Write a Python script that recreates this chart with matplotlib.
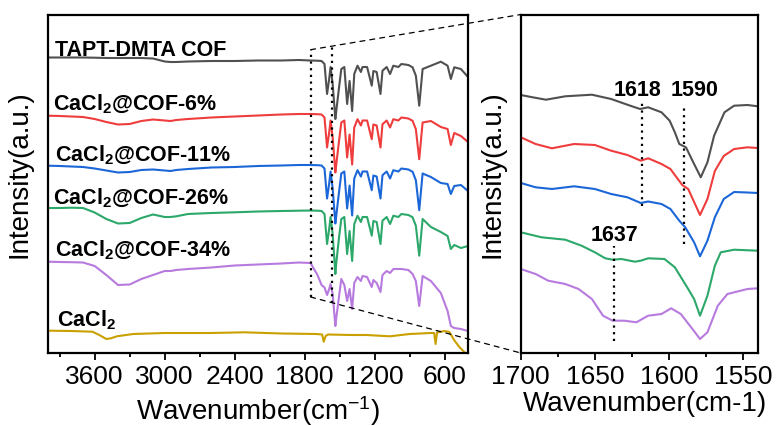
import matplotlib
matplotlib.use("Agg")
import matplotlib.pyplot as plt
from matplotlib.patches import ConnectionPatch

plt.rcParams['font.family'] = ['Liberation Sans', 'DejaVu Sans']
plt.rcParams['mathtext.fontset'] = 'custom'
plt.rcParams['mathtext.rm'] = 'Liberation Sans'
plt.rcParams['mathtext.bf'] = 'Liberation Sans:bold'
plt.rcParams['mathtext.it'] = 'Liberation Sans:italic'
plt.rcParams['mathtext.default'] = 'regular'

# ---------------- data: full range spectra (left panel) ----------------
wn_cof = [4000, 3900, 3800, 3700, 3600, 3500, 3400, 3300, 3200, 3100, 3000, 2950, 2900, 2800,
          2600, 2400, 2200, 2000, 1850,
          1750, 1690, 1655, 1630, 1608, 1590, 1578, 1560, 1537, 1529, 1507, 1486, 1460, 1436,
          1415, 1393, 1375, 1347, 1318, 1304, 1265, 1225, 1211, 1183, 1150, 1133, 1097, 1068,
          1040, 997, 971, 911, 875, 847, 818, 789, 718, 633, 575, 547, 518, 461, 400]

y_tapt = [295.5, 295.5, 295.5, 295.5, 295.3, 295, 295, 295, 295, 294.5, 291.5, 291, 291, 291.5,
          292, 292, 292.5, 292.5, 293,
          292.5, 292.3, 292, 289, 259, 274, 286, 269, 234, 242, 264, 284, 286, 249,
          272, 242, 279, 287.3, 281, 286, 286, 267.3, 282, 281, 259, 282.3, 286, 279,
          287.3, 286, 289, 288, 285.7, 277.3, 247.3, 284, 287.3, 291.3, 287.3, 274, 285.7, 284, 276]

y_cof6 = [237.3, 237, 236.5, 236, 234, 231, 228.5, 229, 232, 233.5, 232.5, 232, 233, 234,
          235.5, 236.5, 237.5, 238.5, 239,
          239, 238.8, 238.5, 235.5, 205.5, 220.5, 232.5, 215.5, 180.5, 188.5, 210.5, 230.5, 232.5, 195.5,
          218.5, 188.5, 225.5, 233.8, 227.5, 232.5, 232.5, 213.8, 228.5, 227.5, 205.5, 228.8, 232.5, 225.5,
          233.8, 232.5, 235.5, 234.5, 232.2, 223.8, 193.8, 230.5, 232, 226, 224, 208, 220, 217, 211]

y_cof11 = [187.3, 187, 186.5, 186, 184.5, 182.5, 180.5, 181, 183, 183.5, 182.5, 182, 183, 184,
           185.5, 186, 187, 187.5, 188,
           188, 187.8, 187.5, 184.5, 154.5, 169.5, 181.5, 164.5, 129.5, 137.5, 159.5, 179.5, 181.5, 144.5,
           167.5, 137.5, 174.5, 182.8, 176.5, 181.5, 181.5, 162.8, 177.5, 176.5, 154.5, 177.8, 181.5, 174.5,
           182.8, 181.5, 184.5, 183.5, 181.2, 172.8, 142.8, 179.5, 176, 170, 169, 159, 167, 168, 162]

y_cof26 = [145, 145, 145.3, 145, 140.5, 134, 129.5, 130, 135, 138.5, 136, 136, 136.7, 139,
           140, 140.7, 141.5, 142, 142.3,
           142.5, 142.3, 142, 139, 109, 124, 136, 119, 79, 90, 114, 134, 136, 99,
           122, 92, 129, 137.3, 131, 136, 136, 117.3, 132, 131, 109, 132.3, 136, 129,
           137.3, 136, 139, 138, 135.7, 127.3, 97.3, 134, 126, 121, 117, 104, 108, 105, 107]

y_cof34 = [91.3, 91, 90.8, 90.5, 87, 78, 68, 68.5, 74, 78, 82, 82, 83, 84,
           85.5, 87.5, 88.5, 89.5, 90.5,
           90, 78, 68, 65.5, 58, 64, 69, 59, 27, 35, 55, 74, 68, 52,
           64, 44, 70, 76, 72, 77, 76, 66, 73, 70, 61, 78, 82, 80,
           84, 84, 84, 83, 79, 72, 47, 77, 72, 60, 42, 27, 25, 24, 22]

wn_cacl2 = [4000, 3800, 3620, 3560, 3500, 3460, 3410, 3270, 3000, 2600, 2320, 2000, 1700, 1650,
            1637, 1620, 1600, 1400, 1270, 1070, 900, 720, 690, 678, 665, 600, 560, 515, 472,
            443, 400]
y_cacl2 = [22.3, 22, 21.3, 18, 14, 14.7, 16.7, 19, 20, 20, 20.7, 19.5, 19, 18.5,
           11.3, 17, 18.5, 18, 18, 16.7, 19, 20, 20, 9, 20.5, 22, 21, 12.3, 5.7, 2.3, -3]

# ---------------- data: zoomed region 1700-1540 cm-1 (right panel) ----------------
z_wn_tapt = [1700, 1692, 1683, 1670, 1652, 1639, 1627.5, 1619.5, 1614, 1605, 1599.5, 1596, 1593,
             1588.5, 1583, 1578.5, 1574, 1569.5, 1562.5, 1556, 1547, 1540]
z_y_tapt = [258, 255.7, 253.3, 256.7, 258.3, 254, 248, 244, 245.7, 240.7, 232.3, 220.7, 209,
            205.7, 189, 175.7, 190.7, 217.3, 240.7, 247.3, 248, 246.7]

z_wn_6 = [1700, 1690, 1679, 1664, 1650, 1639, 1628, 1619, 1614, 1605, 1599, 1594, 1591, 1587,
          1583, 1579, 1574, 1569, 1563, 1556, 1547, 1540]
z_y_6 = [215.7, 209, 204.7, 209, 208, 202.3, 198, 192.3, 194.7, 189, 184, 174, 168, 164,
         151, 138, 154, 182, 197, 204, 205.7, 205]

z_wn_11 = [1700, 1690, 1679, 1664, 1650, 1639, 1628, 1619, 1614, 1605, 1599, 1593, 1589, 1583,
           1579, 1574, 1569, 1563, 1556, 1547, 1540]
z_y_11 = [170, 165.7, 164, 166.7, 164, 159, 155.7, 150, 151.5, 149, 144, 132.3, 125.7, 110.7,
          96.7, 112.3, 135.7, 154, 161, 160.5, 160]

z_wn_26 = [1700, 1686, 1670, 1659, 1650, 1643, 1638, 1632, 1623, 1619, 1614, 1603, 1596, 1587,
           1583, 1579, 1574, 1569, 1565, 1556, 1540]
z_y_26 = [120.7, 115.7, 113.3, 107.3, 100.7, 94.7, 93.3, 94, 91.3, 92.3, 94.7, 94, 85.7, 64,
          54, 37.3, 57.3, 87.3, 100.7, 103.3, 102.3]

z_wn_34 = [1700, 1690, 1681.5, 1670, 1661, 1652, 1644.5, 1638, 1630, 1622, 1614, 1605, 1598.5,
           1592, 1585, 1579, 1574, 1567, 1560.5, 1547, 1540]
z_y_34 = [84, 79, 72.3, 69, 64, 54, 37.3, 32.3, 32.3, 30.7, 37.3, 39, 44.7, 39, 25.7, 14,
          20.7, 47.3, 59, 64, 64.7]

series_names = ["TAPT-DMTA COF", r"CaCl$_\mathbf{2}$@COF-6%", r"CaCl$_\mathbf{2}$@COF-11%",
                r"CaCl$_\mathbf{2}$@COF-26%", r"CaCl$_\mathbf{2}$@COF-34%", r"CaCl$_\mathbf{2}$"]
colors = ["#505050", "#ef3d3d", "#1c67d8", "#2ca86a", "#b77ade", "#c9a000"]

peak_labels = ["1618", "1590", "1637"]
peak_wn = [1618, 1590, 1637]

full_x = [wn_cof, wn_cof, wn_cof, wn_cof, wn_cof, wn_cacl2]
full_y = [y_tapt, y_cof6, y_cof11, y_cof26, y_cof34, y_cacl2]
zoom_x = [z_wn_tapt, z_wn_6, z_wn_11, z_wn_26, z_wn_34]
zoom_y = [z_y_tapt, z_y_6, z_y_11, z_y_26, z_y_34]

# ---------------- figure ----------------
W, H = 778, 427
fig = plt.figure(figsize=(W / 100, H / 100), dpi=100)
ax1 = fig.add_axes([48 / W, 73 / H, 420 / W, 338.5 / H])
ax2 = fig.add_axes([520.8 / W, 73 / H, 237 / W, 338.5 / H])

lw = 1.5
for xs, ys, c in zip(full_x, full_y, colors):
    ax1.plot(xs, ys, color=c, lw=lw, solid_joinstyle='round')
for xs, ys, c in zip(zoom_x, zoom_y, colors):
    ax2.plot(xs, ys, color=c, lw=lw, solid_joinstyle='round')

ax1.set_xlim(4000, 400)
ax2.set_xlim(1700, 1540)
for ax in (ax1, ax2):
    ax.set_ylim(0, 338.5)
    ax.set_yticks([])
    for s in ax.spines.values():
        s.set_linewidth(1.6)
    ax.tick_params(axis='x', which='both', direction='out', width=1.3, labelsize=19, pad=3)
    ax.tick_params(axis='x', which='major', length=5)
    ax.tick_params(axis='x', which='minor', length=3)

ax1.set_xticks([3600, 3000, 2400, 1800, 1200, 600])
ax1.set_xticks([3900, 3300, 2700, 2100, 1500, 900], minor=True)
ax2.set_xticks([1700, 1650, 1600, 1550])
ax2.set_xticks([1675, 1625, 1575], minor=True)

ax1.set_xlabel("Wavenumber(cm$^{-1}$)", fontsize=20)
ax2.set_xlabel("Wavenumber(cm-1)", fontsize=20)
ax1.set_ylabel("Intensity(a.u.)", fontsize=20)
ax2.set_ylabel("Intensity(a.u.)", fontsize=20)
ax1.xaxis.set_label_coords(0.5, -0.118)
ax2.xaxis.set_label_coords(0.524, -0.108)
ax1.yaxis.set_label_coords(-0.036, 0.53)
ax2.yaxis.set_label_coords(-0.066, 0.53)

# curve labels
label_pos = [(3943, 298.5), (3960, 244), (3943, 192.3), (3960, 150), (3943, 98), (3926, 27.3)]
for name, (lx, ly) in zip(series_names, label_pos):
    ax1.text(lx, ly, name, fontsize=15.5, fontweight='bold', ha='left', va='baseline')

# peak markers in the zoomed panel
dot = (0, (1, 2))
peak_spans = [(147, 251), (109, 245), (12, 107)]
peak_text = [(1621, 264), (1583, 264), (1636.5, 118)]
for (y0, y1), wnp in zip(peak_spans, peak_wn):
    ax2.plot([wnp, wnp], [y0, y1], color='black', lw=1.6, linestyle=dot)
for lab, (tx, ty) in zip(peak_labels, peak_text):
    ax2.text(tx, ty, lab, fontsize=15.5, fontweight='bold', ha='center', va='center')

# zoom indicator: dotted box edges in left panel + dashed connectors
box_left, box_right = 1749, 1563
box_top, box_bot = 303.3, 56
for yA, yB in [(box_top, 1), (box_bot, 0)]:
    con = ConnectionPatch(xyA=(box_left, yA), coordsA='data', axesA=ax1,
                          xyB=(0, yB), coordsB='axes fraction', axesB=ax2,
                          color='black', lw=0.9, linestyle=(0, (4, 4)))
    fig.add_artist(con)
ax1.plot([box_left, box_left], [box_bot, box_top], color='black', lw=1.6, linestyle=dot)

# right edge of the box lies on the connector lines
def y_on_connector(yA, yB):
    pA = ax1.transData.transform((box_left, yA))
    pB = ax2.transAxes.transform((0, yB))
    xr = ax1.transData.transform((box_right, 0))[0]
    yd = pA[1] + (pB[1] - pA[1]) * (xr - pA[0]) / (pB[0] - pA[0])
    return ax1.transData.inverted().transform((xr, yd))[1]

yr_top = y_on_connector(box_top, 1)
yr_bot = y_on_connector(box_bot, 0)
ax1.plot([box_right, box_right], [yr_bot, yr_top], color='black', lw=1.6, linestyle=dot)

fig.savefig("out.png", dpi=100)
